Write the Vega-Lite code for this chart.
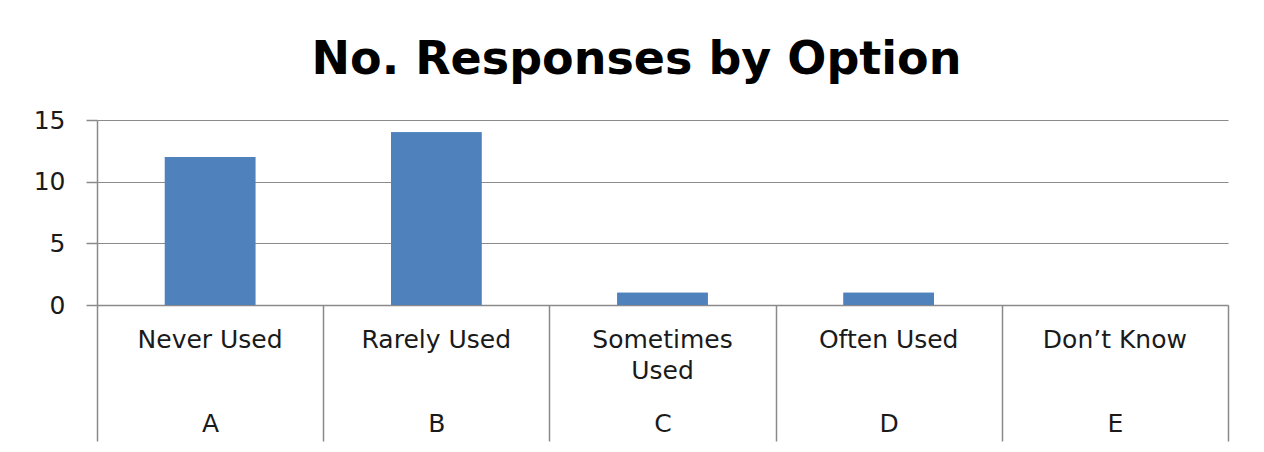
{
  "$schema": "https://vega.github.io/schema/vega-lite/v6.json",
  "width": 1131,
  "height": 185,
  "autosize": {"type": "none"},
  "padding": {"left": 97, "top": 120, "right": 36, "bottom": 147},
  "background": "white",
  "config": {
    "view": {"stroke": null},
    "axis": {
      "labelFont": "DejaVu Sans",
      "labelFontSize": 25,
      "labelColor": "#1a1a1a",
      "domainColor": "#8a8a8a",
      "tickColor": "#8a8a8a",
      "gridColor": "#8a8a8a",
      "domainWidth": 1.5,
      "tickWidth": 1.5,
      "gridWidth": 1.2,
      "title": null
    }
  },
  "title": {
    "text": "No. Responses by Option",
    "font": "DejaVu Sans",
    "fontSize": 46,
    "fontWeight": "bold",
    "color": "#000000",
    "anchor": "middle",
    "frame": "group",
    "dx": -26,
    "baseline": "alphabetic",
    "offset": -12
  },
  "data": {
    "values": [
      {"code": "A", "option": "Never Used", "responses": 12},
      {"code": "B", "option": "Rarely Used", "responses": 14},
      {"code": "C", "option": "Sometimes Used", "responses": 1},
      {"code": "D", "option": "Often Used", "responses": 1},
      {"code": "E", "option": "Don’t Know", "responses": 0}
    ]
  },
  "encoding": {
    "y": {
      "field": "responses",
      "type": "quantitative",
      "scale": {"domain": [0, 15], "nice": false},
      "axis": {
        "values": [0, 5, 10, 15],
        "grid": true,
        "tickSize": 11,
        "labelPadding": 21,
        "labelBaseline": "middle"
      }
    }
  },
  "layer": [
    {
      "mark": {"type": "bar", "color": "#4F81BD", "width": {"band": 0.4}},
      "encoding": {
        "x": {
          "field": "option",
          "type": "nominal",
          "sort": null,
          "scale": {"paddingInner": 0, "paddingOuter": 0},
          "axis": {
            "orient": "bottom",
            "labelAngle": 0,
            "ticks": false,
            "domain": false,
            "grid": false,
            "labelBaseline": "top",
            "labelPadding": 22,
            "labelLineHeight": 31,
            "labelLimit": 0,
            "labelExpr": "length(datum.label) > 12 ? split(datum.label, ' ') : datum.label"
          }
        }
      }
    },
    {
      "mark": {"type": "bar", "color": "#4F81BD", "width": {"band": 0.4}},
      "encoding": {
        "x": {
          "field": "code",
          "type": "nominal",
          "sort": null,
          "scale": {"paddingInner": 0, "paddingOuter": 0},
          "axis": {
            "orient": "bottom",
            "labelAngle": 0,
            "ticks": true,
            "tickBand": "extent",
            "tickSize": 136,
            "domain": true,
            "grid": false,
            "labelBaseline": "alphabetic",
            "labelPadding": -10
          }
        }
      }
    }
  ],
  "resolve": {"scale": {"x": "independent"}, "axis": {"x": "independent"}}
}
